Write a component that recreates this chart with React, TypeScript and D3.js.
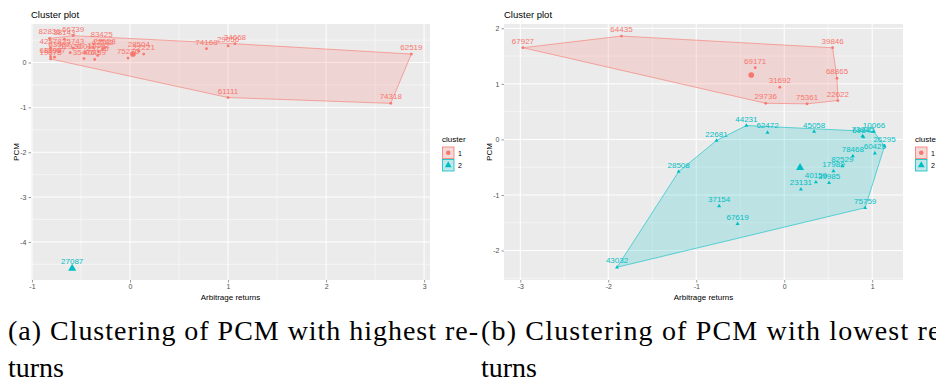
import React, { useRef, useEffect } from "react";
import * as d3 from "d3";

// left plot: PCM with highest returns
const leftIds = [
  "82836", "66739", "38143", "83425", "42578", "25743", "21558", "28504", "22221",
  "75276", "74168", "29056", "34668", "62519", "61111", "74318", "68690", "19878",
  "52920", "30011", "15592", "35476", "40459", "25725", "47292", "13957", "63087",
];
const leftX = [
  -0.82, -0.58, -0.67, -0.29, -0.81, -0.58, -0.26, 0.09, 0.14,
  -0.02, 0.78, 1.0, 1.07, 2.87, 1.0, 2.66, -0.81, -0.81,
  -0.61, -0.46, -0.32, -0.47, -0.36, -0.33, -0.28, -0.77, -0.72,
];
const leftY = [
  0.54, 0.6, 0.52, 0.49, 0.32, 0.32, 0.32, 0.25, 0.19,
  0.1, 0.31, 0.37, 0.42, 0.19, -0.78, -0.91, 0.13, 0.08,
  0.22, 0.22, 0.24, 0.09, 0.07, 0.16, 0.3, 0.12, 0.25,
];
const leftGroup = [
  1, 1, 1, 1, 1, 1, 1, 1, 1,
  1, 1, 1, 1, 1, 1, 1, 1, 1,
  1, 1, 1, 1, 1, 1, 1, 1, 1,
];
const leftOutlierIds = ["27087"];
const leftOutlierX = [-0.59];
const leftOutlierY = [-4.59];
const leftCentroidX = [0.03, -0.59];
const leftCentroidY = [0.19, -4.59];

// right plot: PCM with lowest returns
const rightIds = [
  "67927", "64435", "39846", "69171", "31692", "68865", "29736", "75361", "22622",
  "44231", "62472", "45058", "22681", "10066", "73940", "69842", "26295", "60425",
  "78468", "82529", "17989", "40159", "39985", "23131", "75759", "37154", "67619",
  "28508", "43032",
];
const rightX = [
  -2.97, -1.85, 0.55, -0.33, -0.05, 0.6, -0.21, 0.26, 0.61,
  -0.43, -0.19, 0.34, -0.77, 1.02, 0.89, 0.9, 1.14, 1.03,
  0.78, 0.66, 0.56, 0.36, 0.51, 0.19, 0.92, -0.74, -0.53,
  -1.2, -1.9,
];
const rightY = [
  1.65, 1.86, 1.65, 1.29, 0.94, 1.1, 0.65, 0.64, 0.7,
  0.25, 0.125, 0.14, -0.02, 0.14, 0.06, 0.04, -0.12, -0.25,
  -0.3, -0.48, -0.57, -0.77, -0.78, -0.9, -1.23, -1.2, -1.52,
  -0.58, -2.3,
];
const rightGroup = [
  1, 1, 1, 1, 1, 1, 1, 1, 1,
  2, 2, 2, 2, 2, 2, 2, 2, 2,
  2, 2, 2, 2, 2, 2, 2, 2, 2,
  2, 2,
];
const rightCentroidX = [-0.375, 0.18];
const rightCentroidY = [1.16, -0.51];

const leftXTicks = [-1, 0, 1, 2, 3];
const leftYTicks = [0, -1, -2, -3, -4];
const rightXTicks = [-3, -2, -1, 0, 1];
const rightYTicks = [2, 1, 0, -1, -2];
const clusterNames = ["1", "2"];

const colors = ["#F8766D", "#00BFC4"];
const sans = "'Liberation Sans', Arial, sans-serif";
const serif = "'Liberation Serif', 'Times New Roman', Times, serif";

const ClusterChart = () => {
  const svgRef = useRef(null);

  useEffect(() => {
    const svg = d3.select(svgRef.current);
    svg.selectAll("*").remove();

    const symbolFor = (g, size) =>
      d3.symbol(g === 1 ? d3.symbolCircle : d3.symbolTriangle).size(size)();

    const drawPanel = (opt) => {
      const x = d3.scaleLinear().domain(opt.xDomain).range([opt.left, opt.right]);
      const y = d3.scaleLinear().domain(opt.yDomain).range([opt.bottom, opt.top]);
      const g = svg.append("g");

      g.append("rect")
        .attr("x", opt.left)
        .attr("y", opt.top)
        .attr("width", opt.right - opt.left)
        .attr("height", opt.bottom - opt.top)
        .attr("fill", "#EBEBEB");

      // minor grid
      const xMinor = d3.range(Math.floor(opt.xDomain[0]) - 1, opt.xDomain[1], 1)
        .map((v) => v + 0.5)
        .filter((v) => v > opt.xDomain[0] && v < opt.xDomain[1]);
      const yMinor = d3.range(Math.floor(opt.yDomain[0]) - 1, opt.yDomain[1], 1)
        .map((v) => v + 0.5)
        .filter((v) => v > opt.yDomain[0] && v < opt.yDomain[1]);
      g.selectAll(".xminor").data(xMinor).enter().append("line")
        .attr("x1", (d) => x(d)).attr("x2", (d) => x(d))
        .attr("y1", opt.top).attr("y2", opt.bottom)
        .attr("stroke", "#fff").attr("stroke-width", 0.5);
      g.selectAll(".yminor").data(yMinor).enter().append("line")
        .attr("y1", (d) => y(d)).attr("y2", (d) => y(d))
        .attr("x1", opt.left).attr("x2", opt.right)
        .attr("stroke", "#fff").attr("stroke-width", 0.5);
      // major grid
      g.selectAll(".xmajor").data(opt.xTicks).enter().append("line")
        .attr("x1", (d) => x(d)).attr("x2", (d) => x(d))
        .attr("y1", opt.top).attr("y2", opt.bottom)
        .attr("stroke", "#fff").attr("stroke-width", 1);
      g.selectAll(".ymajor").data(opt.yTicks).enter().append("line")
        .attr("y1", (d) => y(d)).attr("y2", (d) => y(d))
        .attr("x1", opt.left).attr("x2", opt.right)
        .attr("stroke", "#fff").attr("stroke-width", 1);

      // axes
      const xAxis = d3.axisBottom(x).tickValues(opt.xTicks).tickSize(2.5).tickPadding(2).tickFormat((d) => String(d));
      const yAxis = d3.axisLeft(y).tickValues(opt.yTicks).tickSize(2.5).tickPadding(2).tickFormat((d) => String(d));
      const gx = g.append("g").attr("transform", `translate(0,${opt.bottom})`).call(xAxis);
      const gy = g.append("g").attr("transform", `translate(${opt.left},0)`).call(yAxis);
      [gx, gy].forEach((ax) => {
        ax.select(".domain").remove();
        ax.selectAll("line").attr("stroke", "#333").attr("stroke-width", 0.5);
        ax.selectAll("text").attr("fill", "#4D4D4D").style("font-size", "7px").style("font-family", sans);
      });

      // hulls
      [1, 2].forEach((k) => {
        const pts = opt.ids
          .map((id, i) => [x(opt.xs[i]), y(opt.ys[i]), opt.groups[i]])
          .filter((p) => p[2] === k)
          .map((p) => [p[0], p[1]]);
        const hull = pts.length >= 3 ? d3.polygonHull(pts) : null;
        if (hull) {
          g.append("path")
            .attr("d", "M" + hull.join("L") + "Z")
            .attr("fill", colors[k - 1])
            .attr("fill-opacity", 0.2)
            .attr("stroke", colors[k - 1])
            .attr("stroke-width", 0.6);
        }
      });

      // points
      g.selectAll(".pt").data(opt.ids).enter().append("path")
        .attr("transform", (d, i) => `translate(${x(opt.xs[i])},${y(opt.ys[i])})`)
        .attr("d", (d, i) => symbolFor(opt.groups[i], opt.groups[i] === 1 ? 6 : 7))
        .attr("fill", (d, i) => colors[opt.groups[i] - 1]);

      // labels
      g.selectAll(".lbl").data(opt.ids).enter().append("text")
        .attr("x", (d, i) => x(opt.xs[i]))
        .attr("y", (d, i) => y(opt.ys[i]) - 4)
        .attr("text-anchor", "middle")
        .attr("fill", (d, i) => colors[opt.groups[i] - 1])
        .style("font-size", "8px")
        .style("font-family", sans)
        .text((d) => d);

      // centroids
      opt.cx.forEach((cv, i) => {
        g.append("path")
          .attr("transform", `translate(${x(cv)},${y(opt.cy[i])})`)
          .attr("d", symbolFor(i + 1, i === 0 ? 25 : 28))
          .attr("fill", colors[i]);
      });

      // titles
      g.append("text").attr("x", opt.left).attr("y", 18)
        .style("font-size", "9.5px").style("font-family", sans).attr("fill", "#000")
        .text("Cluster plot");
      g.append("text").attr("x", (opt.left + opt.right) / 2).attr("y", 299.5)
        .attr("text-anchor", "middle")
        .style("font-size", "8px").style("font-family", sans).attr("fill", "#000")
        .text("Arbitrage returns");
      g.append("text")
        .attr("transform", `translate(${opt.left - 12},${(opt.top + opt.bottom) / 2}) rotate(-90)`)
        .attr("text-anchor", "middle")
        .style("font-size", "8px").style("font-family", sans).attr("fill", "#000")
        .text("PCM");

      // legend
      const lg = g.append("g").attr("transform", `translate(${opt.legendX},0)`);
      lg.append("text").attr("x", 0).attr("y", 142)
        .style("font-size", "8px").style("font-family", sans).attr("fill", "#000")
        .text("cluster");
      clusterNames.forEach((name, i) => {
        const ky = 147 + i * 12.5;
        lg.append("rect").attr("x", 0.5).attr("y", ky).attr("width", 11.5).attr("height", 11.5)
          .attr("fill", "#F2F2F2");
        lg.append("rect").attr("x", 0.5).attr("y", ky).attr("width", 11.5).attr("height", 11.5)
          .attr("fill", colors[i]).attr("fill-opacity", 0.2)
          .attr("stroke", colors[i]).attr("stroke-width", 0.8);
        lg.append("path")
          .attr("transform", `translate(6.25,${ky + 5.75})`)
          .attr("d", symbolFor(i + 1, i === 0 ? 16 : 20))
          .attr("fill", colors[i]);
        lg.append("text").attr("x", 16).attr("y", ky + 8.5)
          .style("font-size", "7px").style("font-family", sans).attr("fill", "#000")
          .text(name);
      });
    };

    drawPanel({
      left: 31, right: 430, top: 24, bottom: 280,
      xDomain: [-1.01, 3.06], yDomain: [-4.85, 0.86],
      xTicks: leftXTicks, yTicks: leftYTicks,
      ids: leftIds.concat(leftOutlierIds),
      xs: leftX.concat(leftOutlierX),
      ys: leftY.concat(leftOutlierY),
      groups: leftGroup.concat(leftOutlierIds.map(() => 2)),
      cx: leftCentroidX, cy: leftCentroidY,
      legendX: 442,
    });

    drawPanel({
      left: 504, right: 903, top: 24, bottom: 280,
      xDomain: [-3.185, 1.35], yDomain: [-2.53, 2.077],
      xTicks: rightXTicks, yTicks: rightYTicks,
      ids: rightIds, xs: rightX, ys: rightY, groups: rightGroup,
      cx: rightCentroidX, cy: rightCentroidY,
      legendX: 915,
    });

    // captions (justified lines from the paper's subfigure captions)
    const caps = [
      { x: 8, line1: "(a) Clustering of PCM with highest re-" },
      { x: 481, line1: "(b) Clustering of PCM with lowest re-" },
    ];
    caps.forEach((c) => {
      svg.append("text").attr("x", c.x).attr("y", 340)
        .attr("textLength", 470).attr("lengthAdjust", "spacing")
        .style("font-size", "28px").style("font-family", serif).attr("fill", "#000")
        .text(c.line1);
      svg.append("text").attr("x", c.x).attr("y", 377)
        .style("font-size", "28px").style("font-family", serif).attr("fill", "#000")
        .text("turns");
    });
  }, []);

  return (
    <svg
      ref={svgRef}
      width={936}
      height={387}
      style={{ position: "absolute", left: 0, top: 0, background: "#fff" }}
    />
  );
};

export default function App() {
  return <ClusterChart />;
}
